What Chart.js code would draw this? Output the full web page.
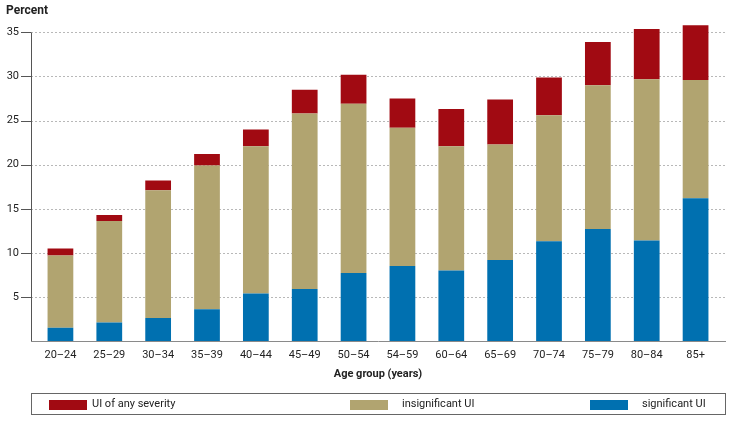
<!DOCTYPE html>
<html>
<head>
<meta charset="utf-8">
<script src="https://cdn.jsdelivr.net/npm/chart.js@4/dist/chart.umd.min.js"></script>
<style>
  html, body { margin:0; padding:0; background:#fff; }
  #wrap { position:relative; width:732px; height:422px; }
  #c { position:absolute; left:0; top:0; }
  #legend { position:absolute; left:31px; top:393px; width:693px; height:20px; border:1px solid #666; box-sizing:content-box;
    font-family:Roboto,"DejaVu Sans Condensed",sans-serif; font-size:11px; color:#222; }
  .item { position:absolute; top:0; height:20px; line-height:20px; white-space:nowrap; }
  .sw { position:absolute; top:6px; width:38px; height:10px; }
</style>
</head>
<body>
<div id="wrap">
  <canvas id="c" width="732" height="422"></canvas>
  <div id="legend"></div>
</div>
<script>
// ---- data ----
const ageGroups = ["20–24","25–29","30–34","35–39","40–44","45–49","50–54","54–59","60–64","65–69","70–74","75–79","80–84","85+"];
const significantUI   = [1.5, 2.1, 2.6, 3.6, 5.4, 5.9, 7.7, 8.5, 8.0, 9.2, 11.3, 12.7, 11.4, 16.2];
const insignificantUI = [8.2, 11.5, 14.5, 16.3, 16.7, 19.9, 19.2, 15.7, 14.1, 13.1, 14.3, 16.3, 18.3, 13.4];
const anySeverityUI   = [0.8, 0.7, 1.1, 1.3, 1.9, 2.7, 3.3, 3.3, 4.2, 5.1, 4.3, 4.9, 5.7, 6.2];
const yTicks = [5, 10, 15, 20, 25, 30, 35];

const seriesNames = ["UI of any severity", "insignificant UI", "significant UI"];
const colors = { red:"#a10a12", tan:"#b1a470", blue:"#0070b0" };

const FONT = 'Roboto,"DejaVu Sans Condensed",sans-serif';

const axisPlugin = {
  id: 'customAxes',
  beforeDatasetsDraw(chart) {
    const ctx = chart.ctx, y = chart.scales.y;
    const xl = 31, xr = 726;
    ctx.save();
    ctx.strokeStyle = '#b8b8b8';
    ctx.lineWidth = 1;
    ctx.setLineDash([2, 2]);
    yTicks.forEach(v => {
      const py = Math.round(y.getPixelForValue(v)) + 0.5;
      ctx.beginPath(); ctx.moveTo(xl, py); ctx.lineTo(xr, py); ctx.stroke();
    });
    ctx.setLineDash([]);
    ctx.strokeStyle = '#555';
    yTicks.forEach(v => {
      const py = Math.round(y.getPixelForValue(v)) + 0.5;
      ctx.beginPath(); ctx.moveTo(21, py); ctx.lineTo(xl, py); ctx.stroke();
    });
    const top = Math.round(y.getPixelForValue(35)) + 0.5;
    const bot = Math.round(y.getPixelForValue(0)) + 0.5;
    ctx.beginPath(); ctx.moveTo(xl + 0.5, top); ctx.lineTo(xl + 0.5, bot); ctx.stroke();
    ctx.strokeStyle = '#8a8a8a';
    ctx.beginPath(); ctx.moveTo(xl, bot); ctx.lineTo(xr, bot); ctx.stroke();
    ctx.fillStyle = '#222';
    ctx.font = 'bold 12px ' + FONT;
    ctx.textBaseline = 'middle';
    ctx.textAlign = 'left';
    ctx.fillText('Percent', 6, 11);
    ctx.restore();
  }
};

const chart = new Chart(document.getElementById('c'), {
  type: 'bar',
  data: {
    labels: ageGroups,
    datasets: [
      { label: seriesNames[2], data: significantUI,   backgroundColor: colors.blue },
      { label: seriesNames[1], data: insignificantUI, backgroundColor: colors.tan },
      { label: seriesNames[0], data: anySeverityUI,   backgroundColor: colors.red }
    ]
  },
  options: {
    responsive: false,
    animation: false,
    layout: { padding: { left: 0, right: 12, top: 23, bottom: 36 } },
    datasets: { bar: { barPercentage: 0.527, categoryPercentage: 1.0, borderWidth: 0 } },
    plugins: { legend: { display: false }, tooltip: { enabled: false } },
    scales: {
      x: {
        stacked: true,
        grid: { display: false, drawTicks: false },
        border: { display: false },
        ticks: { color: '#222', font: { family: FONT, size: 11 }, padding: 8, maxRotation: 0, autoSkip: false },
        title: { display: true, text: 'Age group (years)', color: '#222', font: { family: FONT, size: 11, weight: 'bold' }, padding: { top: 3, bottom: 5 } },
        afterFit(s) { s.height = 45; }
      },
      y: {
        stacked: true,
        min: 0, max: 36,
        grid: { display: false, drawTicks: false },
        border: { display: false },
        afterBuildTicks(s) { s.ticks = yTicks.map(v => ({ value: v })); },
        ticks: { padding: 17, color: '#222', font: { family: FONT, size: 11 } },
        afterFit(s) { s.width = 36; }
      }
    }
  },
  plugins: [axisPlugin]
});

const legendPos = [ {sw:17, lab:60}, {sw:318, lab:370}, {sw:558, lab:610} ];
const legendOrder = [2, 1, 0];
const leg = document.getElementById('legend');
legendOrder.forEach((di, i) => {
  const ds = chart.data.datasets[di];
  const sw = document.createElement('div');
  sw.className = 'sw'; sw.style.left = legendPos[i].sw + 'px'; sw.style.background = ds.backgroundColor;
  const lb = document.createElement('div');
  lb.className = 'item'; lb.style.left = legendPos[i].lab + 'px'; lb.textContent = ds.label;
  leg.appendChild(sw); leg.appendChild(lb);
});
</script>
</body>
</html>
